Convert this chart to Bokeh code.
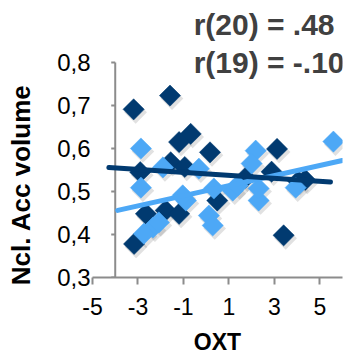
import math
from bokeh.plotting import figure
from bokeh.models import Range1d, FixedTicker, CustomJSTickFormatter, Label
from bokeh.embed import file_html
from bokeh.resources import INLINE

# ---- data ----
dark_x = [-3.19, -1.59, -0.68, -1.19, 0.17, -1.56, -0.94, -2.90, 3.12, 2.88,
          4.36, 4.05, 1.73, 0.49, -2.65, -1.78, -1.19, -3.17, 3.41]
dark_y = [0.691, 0.723, 0.634, 0.615, 0.591, 0.568, 0.557, 0.545, 0.599, 0.546,
          0.527, 0.524, 0.532, 0.479, 0.448, 0.456, 0.448, 0.378, 0.398]
light_x = [-2.87, -1.90, -0.32, -2.87, 5.60, 2.18, 2.00, 3.94, 0.34, 2.31,
           1.17, -0.89, -1.03, -2.34, -2.74, -2.08, 0.12, 0.29, 1.39, 2.31]
light_y = [0.600, 0.556, 0.553, 0.509, 0.616, 0.595, 0.565, 0.509, 0.507, 0.479,
           0.502, 0.479, 0.491, 0.416, 0.402, 0.428, 0.444, 0.421, 0.514, 0.507]
dark_fit_x = [-4.28, 5.47]
dark_fit_y = [0.556, 0.522]
light_fit_x = [-3.89, 5.99]
light_fit_y = [0.456, 0.572]
x_ticks = [-5, -3, -1, 1, 3, 5]
y_ticks = [0.3, 0.4, 0.5, 0.6, 0.7, 0.8]
y_axis_cross = -4
stat_labels = ["r(20) = .48", "r(19) = -.10"]
stat_label_y = [0.888, 0.800]
stat_label_x = -0.55
x_title = "OXT"
y_title = "Ncl. Acc volume"

DARK = "#013a70"
LIGHT = "#4da8f6"
AXIS = "#8c8c8c"

W, H = 357, 358
LEFT, RIGHT, TOP, BOTTOM = 92, 15, 12, 81
frame_w = W - LEFT - RIGHT
frame_h = H - TOP - BOTTOM
px_x = frame_w / 11.0      # pixels per x unit (x range -5..6)
px_y = 215 / 0.5           # pixels per y unit (0.3..0.8 spans 215 px)
y_top = 0.3 + frame_h / px_y

p = figure(width=W, height=H, output_backend="svg", toolbar_location=None,
           x_range=Range1d(-5, 6), y_range=Range1d(0.3, y_top),
           min_border_left=LEFT, min_border_right=RIGHT,
           min_border_top=TOP, min_border_bottom=BOTTOM)
p.outline_line_color = None
p.xgrid.visible = False
p.ygrid.visible = False
p.background_fill_color = "white"
p.border_fill_color = "white"

# x axis
p.xaxis.ticker = FixedTicker(ticks=x_ticks)
p.xaxis.formatter = CustomJSTickFormatter(code="return tick.toString();")
p.xaxis.axis_line_color = AXIS
p.xaxis.axis_line_width = 2
p.xaxis.major_tick_line_color = AXIS
p.xaxis.major_tick_line_width = 2
p.xaxis.major_tick_out = 7
p.xaxis.major_tick_in = 0
p.xaxis.minor_tick_line_color = None
p.xaxis.major_label_text_font = "Liberation Sans"
p.xaxis.major_label_text_font_size = "23px"
p.xaxis.major_label_text_color = "black"
p.xaxis.major_label_standoff = 13
p.xaxis.axis_label = x_title
p.xaxis.axis_label_text_font = "Liberation Sans"
p.xaxis.axis_label_text_font_style = "bold"
p.xaxis.axis_label_text_font_size = "23px"
p.xaxis.axis_label_text_color = "black"
p.xaxis.axis_label_standoff = 11

# y axis (labels at frame edge, axis line drawn where x = -4)
p.yaxis.ticker = FixedTicker(ticks=y_ticks)
p.yaxis.formatter = CustomJSTickFormatter(code="return tick.toFixed(1).replace('.', ',');")
p.yaxis.axis_line_color = None
p.yaxis.major_tick_line_color = None
p.yaxis.minor_tick_line_color = None
p.yaxis.major_tick_out = 0
p.yaxis.major_tick_in = 0
p.yaxis.major_label_standoff = 2
p.yaxis.major_label_text_font = "Liberation Sans"
p.yaxis.major_label_text_font_size = "24px"
p.yaxis.major_label_text_color = "black"
# trailing no-break spaces push the centred title down to where the original sits
p.yaxis.axis_label = y_title + "\u00a0" * 11
p.yaxis.axis_label_text_font = "Liberation Sans"
p.yaxis.axis_label_text_font_style = "bold"
p.yaxis.axis_label_text_font_size = "26px"
p.yaxis.axis_label_text_color = "black"
p.yaxis.axis_label_standoff = 18

p.segment(x0=[y_axis_cross], y0=[y_ticks[0]], x1=[y_axis_cross], y1=[y_ticks[-1]],
          line_color=AXIS, line_width=2)
p.segment(x0=[y_axis_cross - 4 / px_x] * len(y_ticks), y0=y_ticks,
          x1=[y_axis_cross] * len(y_ticks), y1=y_ticks, line_color=AXIS, line_width=2)

# soft drop shadows
sx, sy = 2 / px_x, 3 / px_y
for xs, ys in ((dark_x, dark_y), (light_x, light_y)):
    p.scatter([v + sx for v in xs], [v - sy for v in ys], marker="square", size=16,
              angle=math.pi / 4, fill_color="#777777", fill_alpha=0.22, line_color=None)

p.scatter(dark_x, dark_y, marker="square", size=15, angle=math.pi / 4,
          fill_color=DARK, line_color=DARK, line_width=0.5)
p.scatter(light_x, light_y, marker="square", size=15, angle=math.pi / 4,
          fill_color=LIGHT, line_color=LIGHT, line_width=0.5)

p.line(light_fit_x, light_fit_y, line_color=LIGHT, line_width=5, line_cap="round")
p.line(dark_fit_x, dark_fit_y, line_color=DARK, line_width=5, line_cap="round")

for txt, yv in zip(stat_labels, stat_label_y):
    p.add_layout(Label(x=stat_label_x, y=yv, text=txt, text_font="Liberation Sans",
                       text_font_style="bold", text_font_size="30px", text_color="#404040",
                       text_baseline="middle", text_align="left"))

open("out.html", "w").write(file_html(p, INLINE))
